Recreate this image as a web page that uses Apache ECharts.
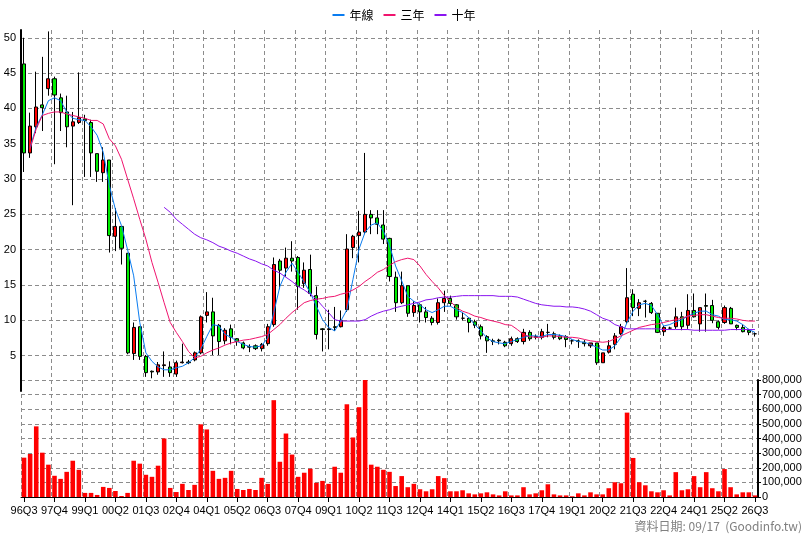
<!DOCTYPE html>
<html><head><meta charset="utf-8">
<script src="https://cdn.jsdelivr.net/npm/echarts@6/dist/echarts.min.js"></script>
<style>html,body{margin:0;padding:0;background:#fff}#c{width:808px;height:540px}</style>
</head><body><div id="c"></div>
<script>
const startYear = 1996, startQ = 3, nQuarters = 121;
const categories = [];
for (let i = 0; i < nQuarters; i++) {
  const q = startQ - 1 + i;
  const y = startYear + Math.floor(q / 4);
  categories.push(String(y % 100).padStart(2, '0') + 'Q' + (q % 4 + 1));
}
const opens = [46.3,33.7,37.4,40.5,42.8,44.2,41.5,39.5,37.5,38,38.5,38.0,33.6,30.9,32.7,21.9,23.3,19.5,5.3,9.1,
4.9,2.8,2.7,3.6,3.4,2.4,4.0,4.1,4.4,5.4,10.7,11.2,9.3,7.1,8.8,7.4,6.8,6.3,6.4,6.0,
6.7,9.4,18.4,17.4,18.8,18.9,15.2,17.2,13.5,8.8,8.7,9.1,9.1,11.5,20.3,22.0,22.5,25.0,24.5,23.5,
21.6,16.1,12.5,14.9,11.1,12.2,11.2,10.3,9.7,12.5,13.1,12.2,10.3,10.3,9.8,9.1,7.7,7.1,7.2,6.9,
6.7,7.4,7.0,8.3,7.7,7.6,8.3,8.1,7.8,7.7,7.1,7.1,6.9,6.4,6.8,4.0,5.5,6.6,8.1,9.8,
13.7,11.7,12.7,12.4,11.0,8.4,8.9,9.1,10.5,9.3,11.4,9.5,12.1,12.1,9.8,9.7,11.7,9.3,9.0,8.6,8.1];
const closes = [33.7,37.5,40.2,40.1,44.2,41.9,39.4,37.4,38.1,38.7,38.3,33.7,31.1,32.7,22.0,23.3,20.2,5.4,9.0,4.9,
2.6,2.7,3.7,3.7,2.6,4.0,4.1,4.0,5.4,10.5,11.2,7.8,7.0,8.6,7.6,7.0,6.1,6.2,6.0,6.6,
9.1,17.9,17.1,18.8,18.4,14.8,17.1,13.8,8.0,8.7,8.8,9.0,10.0,20.1,21.9,22.5,25.0,24.5,23.6,21.5,
16.2,12.5,14.9,11.0,12.1,11.2,10.4,9.7,12.5,13.1,12.4,10.5,10.3,9.7,9.3,7.8,7.1,7.0,7.1,6.4,
7.4,7.0,8.3,7.4,7.6,8.4,8.3,7.6,7.4,7.3,7.1,7.0,6.7,6.8,4.0,5.4,6.4,7.8,9.1,13.2,
11.8,12.5,12.7,11.1,8.3,9.0,8.9,10.5,9.1,11.4,10.5,11.8,12.0,10.0,9.0,11.8,9.5,9.0,8.4,8.3,8.1];
const lows = [31,33,36.5,36.8,41.8,32.1,36.8,34.5,26.3,37.8,30.3,30.3,29.6,29.6,19.6,19.8,17.9,5.2,4.4,4.4,
2.0,1.8,2.3,2.0,2.0,2.0,3.9,3.8,4.2,5.2,9.7,5.1,5.1,6.6,6.6,6.4,5.9,5.5,5.8,5.6,
6.4,9.1,14.4,16.2,16.9,11.5,14.6,13.4,7.3,5.6,5.9,8.5,9.0,11.2,18.8,18.2,22.2,22.2,22.2,20.8,
15.5,11.2,12.3,10.5,10.5,9.7,9.7,9.3,9.4,11.2,12.0,10.1,10.0,8.3,8.9,7.3,5.4,6.5,6.6,6.2,
6.4,6.8,6.6,7.1,7.3,7.3,7.6,7.3,7.2,6.2,6.6,6.1,6.3,6.1,3.7,4.0,5.3,5.9,7.9,9.5,
10.6,10.6,10.4,10.9,8.2,7.8,8.7,8.8,8.6,8.8,10.4,8.4,8.4,9.6,8.7,9.5,9.5,8.6,8.3,7.9,7.7];
const highs = [50,39.4,45.2,47.3,50.9,44.5,42.1,41.8,39.5,45.1,39.1,38.4,33.6,34.5,32.7,25.9,23.3,19.5,9.7,9.1,
5.1,2.9,4.1,5.6,4.2,4.3,6.7,4.4,5.6,10.7,14.0,13.2,9.5,8.9,9.4,7.5,7.0,6.6,6.6,6.8,
9.5,18.9,18.7,20.3,21.2,19.1,18.2,19.3,14.8,8.9,11.5,11.9,11.4,22.2,22.1,25.5,33.7,25.6,25.6,25.6,
21.7,16.9,16.9,14.9,12.7,12.4,11.9,10.6,13.1,14.2,13.5,12.3,11.1,10.4,10.1,9.4,7.9,7.4,7.4,7.1,
7.7,7.6,8.8,8.6,8.0,8.8,9.5,8.4,8.0,7.9,7.3,7.3,7.2,6.8,6.8,5.4,7.2,8.2,9.5,17.4,
14.4,13.0,12.9,12.6,11.0,9.2,9.1,11.8,11.2,13.7,13.8,11.8,13.8,12.9,10.0,12.1,11.9,9.4,9.4,8.8,8.3];
const maYear = [null,34.5,37.4,39.1,41.1,41.5,41.1,39.5,38.6,38.4,38.3,37.4,36.2,33.8,29.1,25.7,23.4,20.0,16.3,9.7,
5.4,4.2,3.4,3.0,3.0,3.3,3.5,4.0,4.7,5.9,7.7,9.4,9.2,8.0,7.6,7.0,6.6,6.3,6.2,6.4,
7.5,11.1,14.8,16.8,18.1,16.8,15.4,13.9,12.0,10.1,9.0,8.5,9.9,11.5,15.8,20.1,22.5,23.5,23.8,22.6,
20.6,17.7,15.6,13.4,12.7,12.2,11.5,11.1,11.5,12.0,12.0,11.5,11.1,10.4,9.4,8.5,7.5,7.0,6.8,6.7,
7.0,7.3,7.6,7.8,7.8,7.7,8.0,8.0,7.9,7.7,7.3,7.0,6.9,6.6,6.2,5.8,5.8,6.4,7.6,9.7,
11.3,12.2,12.4,12.1,10.8,9.2,9.4,9.8,10.1,10.6,11.0,11.3,11.3,10.8,10.6,10.1,10.1,9.9,9.4,8.7,8.3];
const ma3Year = [null,34.3,37.1,39.0,39.3,39.5,39.5,39.2,39.0,38.8,38.6,38.3,38.3,37.8,35.7,34.7,32.8,30.0,27.2,24.3,
21.5,18.2,15.4,12.5,9.7,8.3,7.0,5.6,4.7,4.9,5.4,5.8,6.1,6.5,6.8,7.0,7.2,7.3,7.5,7.7,
8.0,8.7,9.4,10.3,11.1,11.8,12.5,12.8,13.0,13.1,13.3,13.4,13.7,13.9,14.3,14.8,15.5,16.1,16.8,17.2,
17.8,18.3,18.6,18.8,18.6,17.7,16.5,15.5,14.6,13.5,12.7,11.8,11.3,11.0,10.6,10.4,10.1,9.9,9.7,9.4,
9.3,8.7,8.0,7.7,7.6,7.6,7.8,7.8,7.7,7.6,7.6,7.5,7.3,7.1,7.0,6.9,7.0,7.4,7.8,8.2,
8.6,9.0,9.2,9.4,9.5,9.7,9.9,10.1,10.3,10.6,10.7,10.8,10.8,10.6,10.4,10.3,10.3,10.2,10.0,9.9,9.9];
const ma10Year = [null,null,null,null,null,null,null,null,null,null,null,null,null,null,null,null,null,null,null,null,
null,null,null,26.0,25.3,24.3,23.6,22.9,22.2,21.7,21.4,21.0,20.5,20.2,19.8,19.5,19.1,18.7,18.4,18.0,
17.7,17.1,16.7,16.1,15.5,14.8,14.3,13.7,13.0,12.0,11.1,10.1,9.9,9.9,9.9,9.9,10.1,10.6,11.0,11.3,
11.5,11.8,12.0,12.2,12.4,12.6,12.9,13.0,13.2,13.3,13.3,13.4,13.5,13.5,13.5,13.5,13.5,13.5,13.4,13.4,
13.4,13.3,13.0,12.7,12.4,12.2,12.1,12.0,12.0,11.9,11.9,11.8,11.6,11.3,10.8,10.3,10.0,9.4,9.1,8.8,
8.8,8.8,8.8,8.8,8.8,8.7,8.7,8.7,8.7,8.7,8.6,8.6,8.6,8.6,8.6,8.6,8.7,8.7,8.7,8.7,8.7];
const volumes = [269000,294000,483000,303000,221000,145000,124000,172000,248000,186000,28000,28000,14000,69000,62000,41000,7000,28000,248000,228000,
152000,138000,214000,400000,62000,34000,90000,48000,83000,497000,462000,179000,124000,131000,179000,55000,48000,55000,48000,131000,
90000,662000,241000,434000,290000,138000,166000,193000,97000,110000,90000,207000,166000,634000,407000,614000,811000,221000,207000,186000,
172000,75000,143000,67000,90000,53000,39000,53000,143000,129000,39000,39000,46000,25000,18000,25000,32000,18000,11000,39000,
11000,11000,67000,18000,25000,46000,87000,18000,11000,11000,5000,25000,11000,32000,18000,18000,60000,101000,94000,577000,
267000,101000,80000,39000,32000,46000,11000,170000,46000,53000,143000,67000,170000,60000,39000,191000,67000,18000,32000,32000,11000];
const priceTicks = [5,10,15,20,25,30,35,40,45,50];

const candleData = opens.map((o, i) => [o, closes[i], lows[i], highs[i]]);
const dash = {type: [4, 3], color: '#8c8c8c', width: 1};
const font = {fontFamily: 'Liberation Sans, Arial, sans-serif', fontSize: 11, color: '#000'};
const chart = echarts.init(document.getElementById('c'), null, {renderer: 'canvas'});
chart.setOption({
  animation: false,
  backgroundColor: '#fff',
  legend: {
    top: 4, left: 'center', itemWidth: 12, itemHeight: 2, itemGap: 10,
    textStyle: {fontFamily: 'Noto Sans CJK TC', fontSize: 12, color: '#000'},
    data: [{name: '年線', icon: 'rect'}, {name: '三年', icon: 'rect'}, {name: '十年', icon: 'rect'}]
  },
  graphic: [{type: 'text', right: 6, top: 520, style: {text: '資料日期: 09/17  (Goodinfo.tw)', fill: '#808080', font: '12px "Noto Sans CJK TC"'}}],
  grid: [
    {left: 21, right: 50, top: 30, bottom: 149},
    {left: 21, right: 50, top: 380, bottom: 43}
  ],
  xAxis: [
    {type: 'category', gridIndex: 0, data: categories, boundaryGap: true,
     axisLine: {show: false}, axisTick: {show: false}, axisLabel: {show: false},
     splitLine: {show: true, interval: 4, lineStyle: dash}},
    {type: 'category', gridIndex: 1, data: categories, boundaryGap: true,
     axisLine: {show: true, lineStyle: {color: '#000'}},
     axisTick: {show: true, interval: 4, alignWithLabel: true, lineStyle: {color: '#000'}},
     axisLabel: Object.assign({interval: 4, margin: 8}, font),
     splitLine: {show: true, interval: 4, lineStyle: dash}}
  ],
  yAxis: [
    {type: 'value', gridIndex: 0, min: 0, max: 51.1, interval: 5, position: 'left',
     axisLine: {show: true, lineStyle: {color: '#000', width: 2}}, axisTick: {show: false},
     axisLabel: Object.assign({showMinLabel: false, margin: 5, formatter: v => priceTicks.includes(v) ? String(v) : ''}, font),
     splitLine: {show: true, showMinLine: false, showMaxLine: false, lineStyle: dash}},
    {type: 'value', gridIndex: 1, min: 0, max: 800000, interval: 100000, position: 'right',
     axisLine: {show: true, lineStyle: {color: '#000', width: 2}},
     axisTick: {show: true, length: 3, lineStyle: {color: '#000'}},
     axisLabel: Object.assign({margin: 4, formatter: v => v.toLocaleString('en-US')}, font),
     splitLine: {show: true, lineStyle: dash}}
  ],
  series: [
    {type: 'candlestick', xAxisIndex: 0, yAxisIndex: 0, data: candleData, barWidth: '60%',
     itemStyle: {color: '#ff0000', color0: '#00ee00', borderColor: '#000', borderColor0: '#000', borderColorDoji: '#000', borderWidth: 1}},
    {name: '年線', type: 'line', xAxisIndex: 0, yAxisIndex: 0, data: maYear, showSymbol: false, connectNulls: false,
     lineStyle: {color: '#0a7cf0', width: 1}, itemStyle: {color: '#0a7cf0'}},
    {name: '三年', type: 'line', xAxisIndex: 0, yAxisIndex: 0, data: ma3Year, showSymbol: false,
     lineStyle: {color: '#f0146e', width: 1}, itemStyle: {color: '#f0146e'}},
    {name: '十年', type: 'line', xAxisIndex: 0, yAxisIndex: 0, data: ma10Year, showSymbol: false,
     lineStyle: {color: '#8a14f0', width: 1}, itemStyle: {color: '#8a14f0'}},
    {type: 'bar', xAxisIndex: 1, yAxisIndex: 1, data: volumes, barWidth: '75%', itemStyle: {color: '#ff0000'}}
  ]
});
</script></body></html>
